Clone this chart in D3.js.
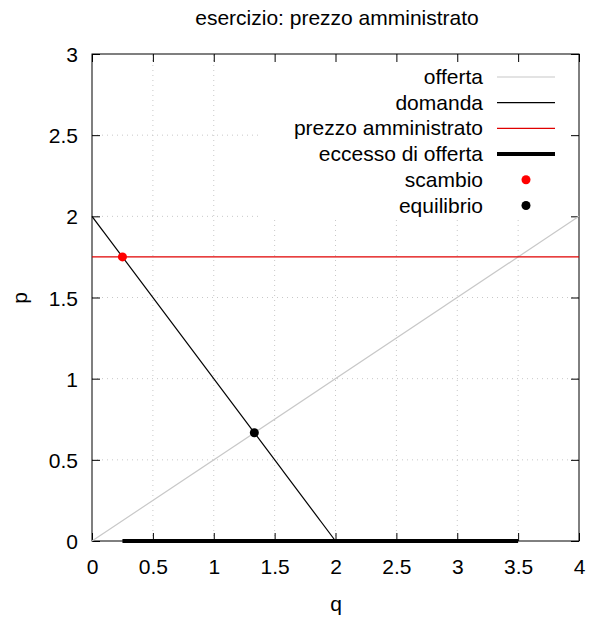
<!DOCTYPE html>
<html>
<head>
<meta charset="utf-8">
<script src="https://cdn.jsdelivr.net/npm/d3@7"></script>
<style>
  body { margin: 0; background: #fff; }
  text { font-family: "Liberation Sans", Arial, sans-serif; fill: #000; }
</style>
</head>
<body>
<svg id="chart" width="589" height="619"></svg>
<script>
// Supply and demand with an administered price
const xTicks = [0, 0.5, 1, 1.5, 2, 2.5, 3, 3.5, 4];
const yTicks = [0, 0.5, 1, 1.5, 2, 2.5, 3];
const offerta = [[0, 0], [4, 2]];
const domanda = [[0, 2], [2, 0]];
const prezzoAmministrato = [[0, 1.75], [4, 1.75]];
const eccessoOfferta = [[0.25, 0], [3.5, 0]];
const scambio = [[0.25, 1.75]];
const equilibrio = [[4 / 3, 2 / 3]];

const FS = 21;
const svg = d3.select("#chart");
const plotL = 92, plotR = 579, plotT = 54, plotB = 541;
const x = d3.scaleLinear().domain([0, 4]).range([plotL, plotR]);
const y = d3.scaleLinear().domain([0, 3]).range([plotB, plotT]);

// grid
const grid = svg.append("g").attr("stroke", "#c8c8c8").attr("stroke-width", 1)
  .attr("stroke-dasharray", "1,4");
xTicks.slice(1, -1).forEach(t => grid.append("line")
  .attr("x1", x(t)).attr("x2", x(t)).attr("y1", plotB).attr("y2", plotT));
yTicks.slice(1, -1).forEach(t => grid.append("line")
  .attr("x1", plotL).attr("x2", plotR).attr("y1", y(t)).attr("y2", y(t)));

// opaque key area
svg.append("rect").attr("x", 258).attr("y", plotT + 1).attr("width", plotR - 259)
  .attr("height", 164).attr("fill", "#fff");

// axes with inward ticks on all four sides
const tl = 8;
const xb = svg.append("g").attr("transform", `translate(0,${plotB})`)
  .call(d3.axisBottom(x).tickValues(xTicks).tickSize(-tl).tickPadding(18)
    .tickFormat(d3.format("~g")));
const xt = svg.append("g").attr("transform", `translate(0,${plotT})`)
  .call(d3.axisTop(x).tickValues(xTicks).tickSize(-tl).tickFormat(""));
const yl = svg.append("g").attr("transform", `translate(${plotL},0)`)
  .call(d3.axisLeft(y).tickValues(yTicks).tickSize(-tl).tickPadding(14)
    .tickFormat(d3.format("~g")));
const yr = svg.append("g").attr("transform", `translate(${plotR},0)`)
  .call(d3.axisRight(y).tickValues(yTicks).tickSize(-tl).tickFormat(""));
[xb, xt, yl, yr].forEach(g => {
  g.select(".domain").remove();
  g.selectAll("line").attr("stroke", "#000").attr("stroke-width", 1);
  g.selectAll("text").attr("font-size", FS).attr("font-family", "Liberation Sans, Arial, sans-serif");
});
yl.selectAll("text").attr("dy", "0.36em");
svg.append("rect").attr("x", plotL).attr("y", plotT).attr("width", plotR - plotL)
  .attr("height", plotB - plotT).attr("fill", "none").attr("stroke", "#000").attr("stroke-width", 1);

const line = d3.line().x(d => x(d[0])).y(d => y(d[1]));
svg.append("path").datum(offerta).attr("d", line).attr("fill", "none")
  .attr("stroke", "#c8c8c8").attr("stroke-width", 1.2);
svg.append("path").datum(domanda).attr("d", line).attr("fill", "none")
  .attr("stroke", "#000").attr("stroke-width", 1.2);
svg.append("path").datum(prezzoAmministrato).attr("d", line).attr("fill", "none")
  .attr("stroke", "#e00000").attr("stroke-width", 1.2);
svg.append("path").datum(eccessoOfferta).attr("d", line).attr("fill", "none")
  .attr("stroke", "#000").attr("stroke-width", 4);
svg.selectAll(".sc").data(scambio).join("circle").attr("cx", d => x(d[0])).attr("cy", d => y(d[1]))
  .attr("r", 4.5).attr("fill", "#f00");
svg.selectAll(".eq").data(equilibrio).join("circle").attr("cx", d => x(d[0])).attr("cy", d => y(d[1]))
  .attr("r", 4.5).attr("fill", "#000");

// key
const keyItems = [
  { label: "offerta", type: "line", color: "#c8c8c8", w: 1.2 },
  { label: "domanda", type: "line", color: "#000", w: 1.2 },
  { label: "prezzo amministrato", type: "line", color: "#e00000", w: 1.2 },
  { label: "eccesso di offerta", type: "line", color: "#000", w: 4 },
  { label: "scambio", type: "point", color: "#f00" },
  { label: "equilibrio", type: "point", color: "#000" }
];
const key = svg.append("g");
keyItems.forEach((k, i) => {
  const cy = 77 + i * 25.7;
  key.append("text").attr("x", 483).attr("y", cy + 7).attr("text-anchor", "end")
    .attr("font-size", FS).text(k.label);
  if (k.type === "line") {
    key.append("line").attr("x1", 497).attr("x2", 555).attr("y1", cy).attr("y2", cy)
      .attr("stroke", k.color).attr("stroke-width", k.w);
  } else {
    key.append("circle").attr("cx", 526).attr("cy", cy).attr("r", 4.5).attr("fill", k.color);
  }
});

// titles
svg.append("text").attr("x", 337).attr("y", 25).attr("text-anchor", "middle")
  .attr("font-size", FS).text("esercizio: prezzo amministrato");
svg.append("text").attr("x", 336).attr("y", 611).attr("text-anchor", "middle")
  .attr("font-size", FS).text("q");
svg.append("text").attr("transform", "translate(27,298) rotate(-90)").attr("text-anchor", "middle")
  .attr("font-size", FS).text("p");
</script>
</body>
</html>
